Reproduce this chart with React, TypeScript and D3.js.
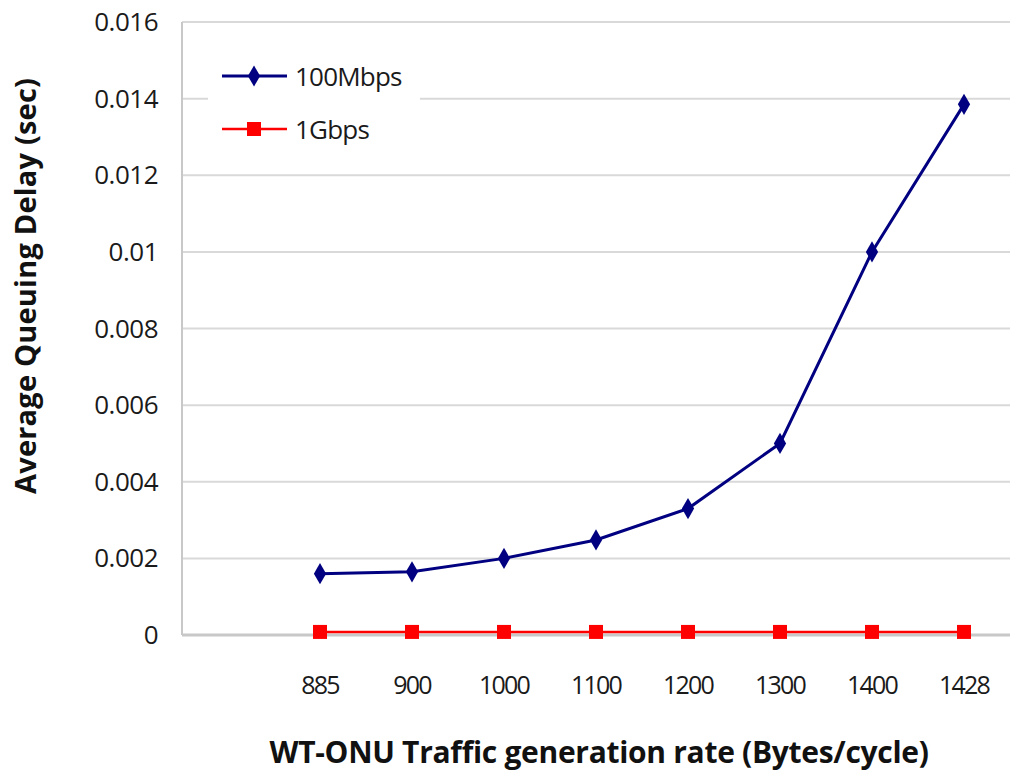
import * as d3 from 'd3'
import React from 'react'

const categories = ['', '885', '900', '1000', '1100', '1200', '1300', '1400', '1428']
const rates = ['885', '900', '1000', '1100', '1200', '1300', '1400', '1428']
const delay100M = [0.0016, 0.00165, 0.002, 0.00248, 0.0033, 0.005, 0.01, 0.01385]
const delay1G = [0.00008, 0.00008, 0.00008, 0.00008, 0.00008, 0.00008, 0.00008, 0.00008]
const yTicks = [0, 0.002, 0.004, 0.006, 0.008, 0.01, 0.012, 0.014, 0.016]

const W = 1024
const H = 777
const left = 182
const right = 1010
const top = 22
const bottom = 635

const App = () => {
  const x = d3.scalePoint().domain(categories).range([left, right]).padding(0.5)
  const y = d3.scaleLinear().domain([0, 0.016]).range([bottom, top])

  const line = d3.line<number>()
    .x((d, i) => x(rates[i]) as number)
    .y(d => y(d))

  const diamond = d3.symbol().type(d3.symbolDiamond).size(130)()
  const font = "'Open Sans', 'Noto Sans', sans-serif"

  return (
    <svg width={W} height={H} style={{ position: 'absolute', left: 0, top: 0, background: '#fff' }}>
      {yTicks.map(t => (
        <g key={t}>
          {t > 0 && (
            <line x1={left} x2={right} y1={y(t)} y2={y(t)} stroke="#d9d9d9" strokeWidth={2} />
          )}
          <text x={158} y={y(t)} dy="0.35em" textAnchor="end" fontFamily={font} fontSize={26} letterSpacing={-0.5} fill="#1a1a1a">
            {d3.format('')(t)}
          </text>
        </g>
      ))}
      <line x1={left} x2={left} y1={top} y2={bottom} stroke="#c8c8c8" strokeWidth={2} />
      <line x1={left} x2={right} y1={bottom} y2={bottom} stroke="#c8c8c8" strokeWidth={3} />

      {rates.map(r => (
        <text key={r} x={x(r)} y={694} textAnchor="middle" fontFamily={font} fontSize={25} letterSpacing={-1.8} fill="#1a1a1a">
          {r}
        </text>
      ))}

      <path d={line(delay1G) || ''} fill="none" stroke="#ff0000" strokeWidth={2.5} />
      {delay1G.map((v, i) => (
        <rect key={i} x={(x(rates[i]) as number) - 7} y={y(v) - 7} width={14} height={14} fill="#ff0000" />
      ))}

      <path d={line(delay100M) || ''} fill="none" stroke="#000080" strokeWidth={3} />
      {delay100M.map((v, i) => (
        <path key={i} d={diamond || ''} transform={`translate(${x(rates[i])},${y(v)})`} fill="#000080" />
      ))}

      <rect x={208} y={55} width={212} height={95} fill="#fff" />
      <line x1={222} x2={287} y1={76} y2={76} stroke="#000080" strokeWidth={3} />
      <path d={diamond || ''} transform="translate(254,76)" fill="#000080" />
      <text x={295} y={77} dy="0.35em" fontFamily={font} fontSize={26} letterSpacing={-0.8} fill="#1a1a1a">100Mbps</text>
      <line x1={222} x2={287} y1={129} y2={129} stroke="#ff0000" strokeWidth={2.5} />
      <rect x={247} y={122} width={14} height={14} fill="#ff0000" />
      <text x={295} y={130} dy="0.35em" fontFamily={font} fontSize={26} letterSpacing={-0.8} fill="#1a1a1a">1Gbps</text>

      <text x={599} y={763} textAnchor="middle" fontFamily={font} fontSize={30} fontWeight="bold" letterSpacing={-0.3} fill="#111">
        WT-ONU Traffic generation rate (Bytes/cycle)
      </text>
      <text transform="translate(36,286) rotate(-90)" textAnchor="middle" fontFamily={font} fontSize={29} fontWeight="bold" letterSpacing={0.2} fill="#111">
        Average Queuing Delay (sec)
      </text>
    </svg>
  )
}

export default App
